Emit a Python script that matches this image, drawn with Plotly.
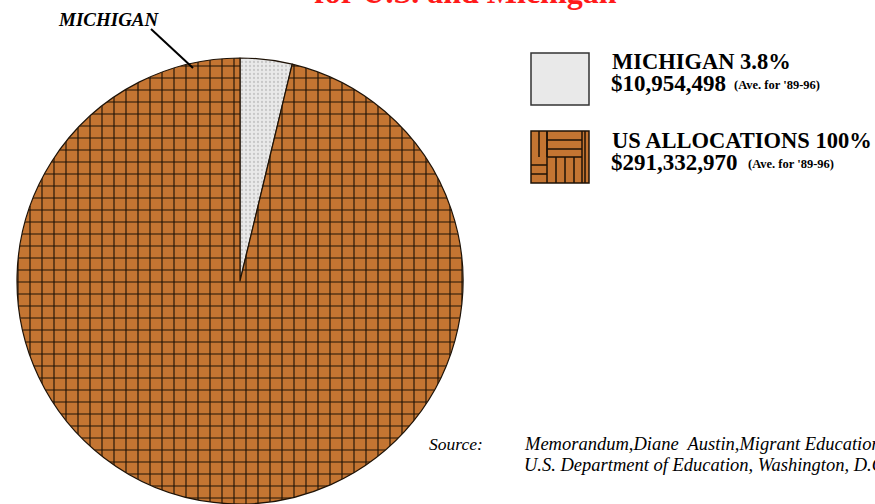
import plotly.graph_objects as go

W, H = 875, 504

# ---- data ----
slice_labels = ["MICHIGAN", "US ALLOCATIONS"]
michigan_amount = 10954498
us_total_amount = 291332970
slice_values = [michigan_amount, us_total_amount - michigan_amount]
legend_titles = ["MICHIGAN 3.8%", "US ALLOCATIONS 100%"]
legend_amounts = ["$10,954,498", "$291,332,970"]
legend_note = "(Ave. for '89-96)"

SERIF = "Liberation Serif, Times New Roman, serif"
ORANGE = "#C47532"
DARK = "#1E1206"
LIGHT = "#E9E9E9"


def fx(px):
    return px / W


def fy(py):
    return 1 - py / H


# pie: centre (240, 281) px, radius 223 px
cx, cy, r = 240, 281, 223
fig = go.Figure()
fig.add_trace(go.Pie(
    labels=slice_labels,
    values=slice_values,
    sort=False,
    direction="counterclockwise",
    rotation=0,
    textinfo="none",
    hoverinfo="label+value+percent",
    showlegend=False,
    domain=dict(x=[fx(cx - r), fx(cx + r)], y=[fy(cy + r), fy(cy - r)]),
    marker=dict(
        colors=[LIGHT, ORANGE],
        line=dict(color=DARK, width=1.2),
        pattern=dict(shape=[".", "+"], fgcolor=["#C8C8C8", DARK],
                     bgcolor=[LIGHT, ORANGE],
                     size=[4, 12], solidity=[0.25, 0.18]),
    ),
))

shapes = []
annotations = []

# title (mostly cut off at top)
annotations.append(dict(text="<b>for U.S. and Michigan</b>", x=fx(465), y=fy(12),
                        xref="paper", yref="paper", xanchor="center", yanchor="bottom",
                        showarrow=False, font=dict(family=SERIF, size=32, color="#FF1A1A")))

# MICHIGAN callout
annotations.append(dict(text="<b><i>MICHIGAN</i></b>", x=fx(56), y=fy(20),
                        xref="paper", yref="paper", xanchor="left", yanchor="middle",
                        showarrow=False, font=dict(family=SERIF, size=19, color="black")))
shapes.append(dict(type="line", xref="paper", yref="paper",
                   x0=fx(151), y0=fy(29), x1=fx(193), y1=fy(68),
                   line=dict(color="black", width=2)))

# legend swatches
box_x0, box_x1 = 531, 589
box_tops = [53, 131]
box_h = 52
shapes.append(dict(type="rect", xref="paper", yref="paper",
                   x0=fx(box_x0), x1=fx(box_x1), y0=fy(box_tops[0]), y1=fy(box_tops[0] + box_h),
                   fillcolor=LIGHT, line=dict(color="#333333", width=1.5)))
t = box_tops[1]
shapes.append(dict(type="rect", xref="paper", yref="paper",
                   x0=fx(box_x0), x1=fx(box_x1), y0=fy(t), y1=fy(t + box_h),
                   fillcolor=ORANGE, line=dict(color=DARK, width=1.5)))
# weave hint inside swatch
seg = []
for xx in (539, 547):
    seg.append((xx, t, xx, t + 26))
seg.append((547, t, 547, t + box_h))
seg.append((582, t, 582, t + box_h))
for yy in (t + 9, t + 18, t + 26):
    seg.append((547, yy, 582, yy))
for yy in (t + 34, t + 43):
    seg.append((box_x0, yy, 547, yy))
for xx in (556, 565, 574):
    seg.append((xx, t + 26, xx, t + box_h))
seg.append((585, t, 585, t + box_h))
for (a, b, c, d) in seg:
    shapes.append(dict(type="line", xref="paper", yref="paper",
                       x0=fx(a), y0=fy(b), x1=fx(c), y1=fy(d),
                       line=dict(color=DARK, width=1.5)))

# legend texts
title_y = [61, 140]
amount_y = [84, 163]
note_x = [733, 747]
for i in range(2):
    annotations.append(dict(text="<b>" + legend_titles[i] + "</b>", x=fx(610), y=fy(title_y[i]),
                            xref="paper", yref="paper", xanchor="left", yanchor="middle",
                            showarrow=False, font=dict(family=SERIF, size=22.5, color="black")))
    annotations.append(dict(text="<b>" + legend_amounts[i] + "</b>", x=fx(610), y=fy(amount_y[i]),
                            xref="paper", yref="paper", xanchor="left", yanchor="middle",
                            showarrow=False, borderpad=0,
                            font=dict(family=SERIF, size=23, color="black")))
    annotations.append(dict(text="<b>" + legend_note + "</b>", x=fx(note_x[i]), y=fy(amount_y[i] + 1),
                            xref="paper", yref="paper", xanchor="left", yanchor="middle",
                            showarrow=False, borderpad=0,
                            font=dict(family=SERIF, size=12.5, color="black")))

# source
annotations.append(dict(text="<i>Source:</i>", x=fx(427), y=fy(444),
                        xref="paper", yref="paper", xanchor="left", yanchor="middle",
                        showarrow=False, font=dict(family=SERIF, size=17.5, color="black")))
annotations.append(dict(text="<i>Memorandum,Diane\u00a0 Austin,Migrant Education Program,</i>",
                        x=fx(522), y=fy(444),
                        xref="paper", yref="paper", xanchor="left", yanchor="middle",
                        showarrow=False, font=dict(family=SERIF, size=18.5, color="black")))
annotations.append(dict(text="<i>U.S. Department of Education, Washington, D.C.</i>",
                        x=fx(522), y=fy(465),
                        xref="paper", yref="paper", xanchor="left", yanchor="middle",
                        showarrow=False, font=dict(family=SERIF, size=18.5, color="black")))

fig.update_layout(
    width=W, height=H,
    margin=dict(l=0, r=0, t=0, b=0),
    paper_bgcolor="white", plot_bgcolor="white",
    shapes=shapes, annotations=annotations,
)

fig.write_html("out.html", config={"displayModeBar": False},
               post_script="document.body.style.margin='0';document.body.style.overflow='hidden';")
